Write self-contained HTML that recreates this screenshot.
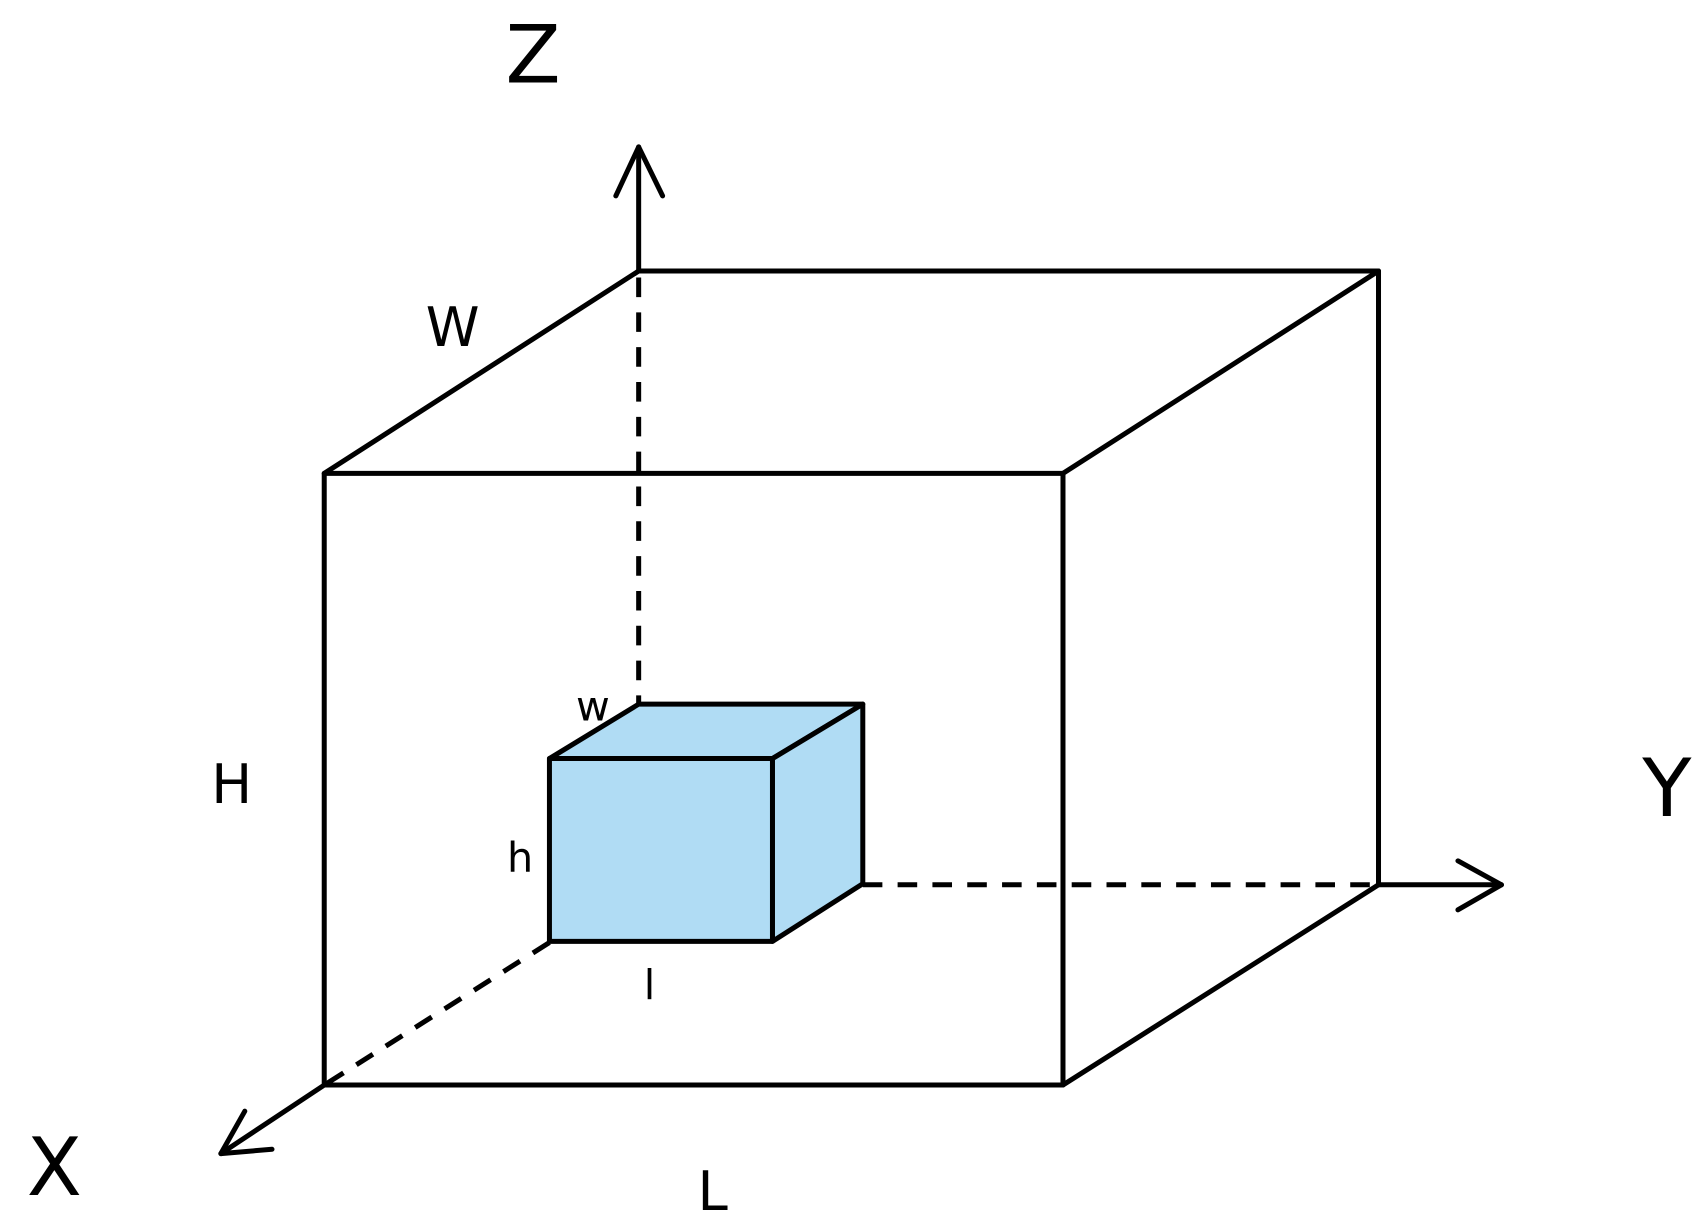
<!DOCTYPE html>
<html><head><style>html,body{margin:0;padding:0;background:#fff}svg{display:block}</style></head>
<body>
<svg width="1706" height="1220" viewBox="0 0 1568 1121" preserveAspectRatio="none" xmlns="http://www.w3.org/2000/svg">
<g stroke="#000" stroke-width="4.6" fill="none" stroke-linecap="round" stroke-linejoin="round">
<polygon points="505,697 710,697 710,865 505,865" fill="#b0dcf4"/>
<polygon points="505,697 587,647 793,647 710,697" fill="#b0dcf4"/>
<polygon points="710,697 793,647 793,812 710,865" fill="#b0dcf4"/>
<rect x="298" y="435" width="679" height="562"/>
<polyline points="298,435 587,249 1267,249 1267,813 977,997"/>
<line x1="977" y1="435" x2="1267" y2="249"/>
<line x1="587" y1="249" x2="587" y2="135"/>
<polyline points="566,180 587,135 609,180"/>
<line x1="1267" y1="813" x2="1380" y2="813"/>
<polyline points="1340,791 1380,813 1340,836"/>
<line x1="298" y1="997" x2="203" y2="1060"/>
<polyline points="225,1021 203,1060 250,1056"/>
<g stroke-dasharray="18,14" stroke-linecap="butt">
<line x1="587" y1="255" x2="587" y2="647"/>
<line x1="793" y1="813" x2="1267" y2="813"/>
<line x1="505" y1="866" x2="298" y2="997"/>
</g>
</g>
<g font-family="DejaVu Sans, Liberation Sans, sans-serif" text-anchor="middle" fill="#000">
<text x="490" y="76" font-size="74">Z</text>
<text x="1532" y="750" font-size="74">Y</text>
<text x="50" y="1098" font-size="74">X</text>
<text x="416" y="318" font-size="50">W</text>
<text x="213" y="738" font-size="50">H</text>
<text x="655" y="1112" font-size="50">L</text>
<text x="545" y="662" font-size="38">w</text>
<text x="478" y="801" font-size="38">h</text>
<text x="597" y="918" font-size="38">l</text>
</g>
</svg>
</body></html>
